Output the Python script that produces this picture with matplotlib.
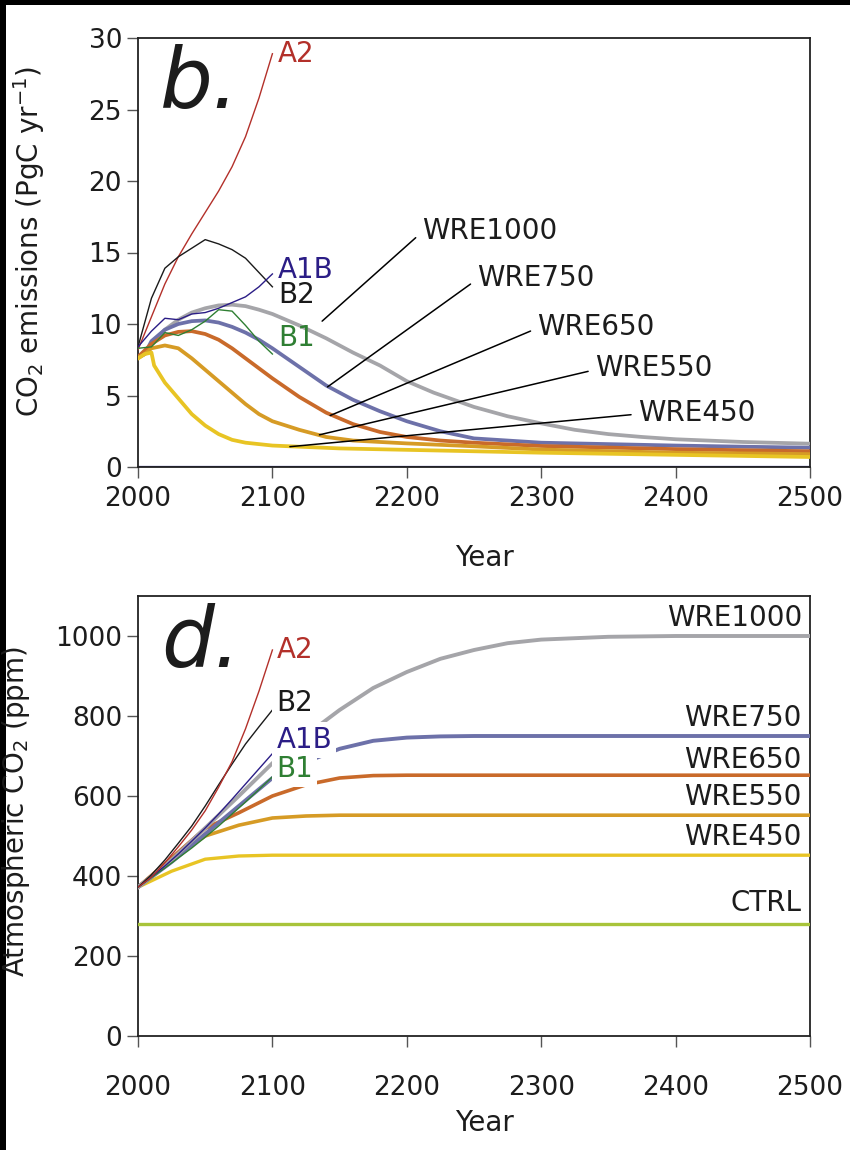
import matplotlib
matplotlib.use("Agg")
import matplotlib.pyplot as plt
from matplotlib.patches import Rectangle

plt.rcParams['font.family'] = ['DejaVu Sans']
plt.rcParams['mathtext.default'] = 'regular'

# ---- panel b: CO2 emissions (PgC/yr) ----
sres_years = [2000, 2010, 2020, 2030, 2040, 2050, 2060, 2070, 2080, 2090, 2100]
a2_emis = [8.2, 10.5, 12.8, 14.7, 16.3, 17.8, 19.3, 21.0, 23.1, 25.8, 28.9]
b2_emis = [8.4, 11.8, 13.9, 14.7, 15.3, 15.9, 15.6, 15.2, 14.6, 13.6, 12.6]
a1b_emis = [8.4, 9.5, 10.4, 10.3, 10.7, 10.8, 11.1, 11.5, 11.9, 12.6, 13.5]
b1_emis = [8.3, 8.4, 9.4, 9.2, 9.6, 10.2, 11.0, 10.9, 9.9, 8.8, 7.9]

wre1000_yr = [2000, 2005, 2010, 2020, 2030, 2040, 2050, 2060, 2070, 2080, 2090, 2100,
              2120, 2140, 2160, 2180, 2200, 2220, 2250, 2275, 2300, 2325, 2350, 2375,
              2400, 2450, 2500]
wre1000_emis = [7.7, 7.9, 8.6, 9.6, 10.3, 10.8, 11.1, 11.3, 11.35, 11.25, 11.0, 10.7,
                9.9, 9.0, 8.0, 7.1, 6.0, 5.2, 4.2, 3.55, 3.05, 2.6, 2.3, 2.1,
                1.94, 1.75, 1.63]
wre750_yr = [2000, 2005, 2010, 2020, 2030, 2040, 2050, 2060, 2070, 2080, 2090, 2100,
             2120, 2140, 2160, 2180, 2200, 2225, 2250, 2300, 2350, 2400, 2450, 2500]
wre750_emis = [7.7, 7.9, 8.8, 9.6, 10.0, 10.2, 10.25, 10.1, 9.8, 9.4, 8.9, 8.3,
               7.0, 5.7, 4.7, 3.9, 3.2, 2.5, 2.0, 1.7, 1.6, 1.5, 1.42, 1.35]
wre650_yr = [2000, 2010, 2020, 2030, 2040, 2050, 2060, 2070, 2080, 2090, 2100,
             2120, 2140, 2160, 2180, 2200, 2225, 2250, 2300, 2400, 2500]
wre650_emis = [7.7, 8.6, 9.2, 9.45, 9.5, 9.3, 8.9, 8.3, 7.6, 6.9, 6.2,
               4.9, 3.8, 3.0, 2.45, 2.1, 1.85, 1.7, 1.47, 1.25, 1.1]
wre550_yr = [2000, 2005, 2010, 2020, 2030, 2040, 2050, 2060, 2070, 2080, 2090, 2100,
             2120, 2140, 2160, 2200, 2250, 2300, 2400, 2500]
wre550_emis = [7.6, 7.9, 8.3, 8.5, 8.3, 7.6, 6.8, 6.0, 5.2, 4.4, 3.7, 3.2,
               2.6, 2.1, 1.85, 1.65, 1.45, 1.22, 1.0, 0.9]
wre450_yr = [2000, 2005, 2010, 2012, 2020, 2030, 2040, 2050, 2060, 2070, 2080, 2100,
             2150, 2200, 2300, 2400, 2500]
wre450_emis = [7.6, 7.9, 8.0, 7.1, 5.9, 4.8, 3.7, 2.9, 2.3, 1.9, 1.7, 1.5,
               1.3, 1.2, 1.0, 0.85, 0.7]
ctrl_emis_yr = [2000, 2500]
ctrl_emis = [0, 0]

# ---- panel d: atmospheric CO2 (ppm) ----
a2_ppm = [372, 397, 433, 473, 515, 563, 622, 686, 768, 862, 965]
b2_ppm = [372, 403, 440, 482, 525, 575, 628, 680, 730, 773, 815]
a1b_ppm = [372, 398, 425, 455, 487, 520, 555, 592, 630, 668, 706]
b1_ppm = [372, 396, 420, 445, 470, 497, 525, 555, 585, 616, 648]

wre_ppm_yr = [2000, 2025, 2050, 2075, 2100, 2125, 2150, 2175, 2200, 2225, 2250,
              2275, 2300, 2350, 2400, 2500]
wre1000_ppm = [372, 440, 520, 600, 682, 752, 815, 870, 910, 943, 965,
               982, 991, 998, 1000, 1000]
wre750_ppm = [372, 435, 505, 575, 645, 685, 718, 738, 746, 749, 750,
              750, 750, 750, 750, 750]
wre650_ppm = [372, 445, 519, 558, 600, 628, 645, 651, 652, 652, 652,
              652, 652, 652, 652, 652]
wre550_ppm = [372, 443, 500, 527, 545, 550, 552, 552, 552, 552, 552,
              552, 552, 552, 552, 552]
wre450_ppm = [372, 412, 442, 450, 452, 452, 452, 452, 452, 452, 452,
              452, 452, 452, 452, 452]
ctrl_yr = [2000, 2500]
ctrl_ppm = [280, 280]

year_ticks = [2000, 2100, 2200, 2300, 2400, 2500]

# colours
c_a2 = '#b3302a'
c_b2 = '#1a1a1a'
c_a1b = '#2b1d86'
c_b1 = '#2f7f33'
c_1000 = '#a5a5a9'
c_750 = '#6d71a9'
c_650 = '#c96a2a'
c_550 = '#d69b25'
c_450 = '#e8c424'
c_ctrl = '#a8c43a'
txt = '#1c1c1c'

fig = plt.figure(figsize=(8.5, 11.5), dpi=100)
axb = fig.add_axes([138 / 850, 1 - 467 / 1150, 672 / 850, 429 / 1150])
axd = fig.add_axes([138 / 850, 1 - 1036 / 1150, 672 / 850, 440 / 1150])

thin = 1.0
thick = 2.7

# panel b lines
axb.plot(ctrl_emis_yr, ctrl_emis, color='#2a2a8c', lw=1.6, zorder=2)
axb.plot(wre1000_yr, wre1000_emis, color=c_1000, lw=thick, zorder=3)
axb.plot(wre750_yr, wre750_emis, color=c_750, lw=thick, zorder=3)
axb.plot(wre650_yr, wre650_emis, color=c_650, lw=thick, zorder=3)
axb.plot(wre550_yr, wre550_emis, color=c_550, lw=thick, zorder=3)
axb.plot(wre450_yr, wre450_emis, color=c_450, lw=thick, zorder=3)
axb.plot(sres_years, a2_emis, color=c_a2, lw=thin, zorder=4)
axb.plot(sres_years, b2_emis, color=c_b2, lw=thin, zorder=4)
axb.plot(sres_years, a1b_emis, color=c_a1b, lw=thin, zorder=4)
axb.plot(sres_years, b1_emis, color=c_b1, lw=thin, zorder=4)

fs = 20
axb.text(2104, 28.9, 'A2', color=c_a2, fontsize=fs, va='center')
axb.text(2104, 13.8, 'A1B', color=c_a1b, fontsize=fs, va='center')
axb.text(2104, 12.0, 'B2', color=c_b2, fontsize=fs, va='center')
axb.text(2104, 9.0, 'B1', color=c_b1, fontsize=fs, va='center')

# WRE labels with leader lines from the left edge of each label
wre_b_labels = ['WRE1000', 'WRE750', 'WRE650', 'WRE550', 'WRE450']
label_xy = [(2211, 16.5), (2252, 13.2), (2297, 9.8), (2340, 6.9), (2372, 3.8)]
point_xy = [(2137, 10.2), (2141, 5.6), (2143, 3.6), (2135, 2.25), (2113, 1.42)]
for name, (lx, ly), (px, py) in zip(wre_b_labels, label_xy, point_xy):
    axb.annotate(name, xy=(px, py), xytext=(lx, ly), fontsize=fs, color=txt,
                 va='center', ha='left',
                 arrowprops=dict(arrowstyle='-', color='black', lw=1.1,
                                 relpos=(0, 0.45), shrinkA=3, shrinkB=0),
                 zorder=6)

axb.text(0.033, 0.985, 'b.', transform=axb.transAxes, fontsize=60,
         style='italic', va='top', ha='left', color=txt)

axb.set_xlim(2000, 2500)
axb.set_ylim(0, 30)
axb.set_yticks([0, 5, 10, 15, 20, 25, 30])
axb.set_xticks(year_ticks)
axb.set_ylabel('CO$_2$ emissions (PgC yr$^{-1}$)', fontsize=fs, color=txt)
axb.yaxis.set_label_coords(-0.135, 0.525)
axb.set_xlabel('Year', fontsize=fs, color=txt)
axb.xaxis.set_label_coords(0.516, -0.18)
axb.tick_params(axis='x', pad=6)

# panel d lines
axd.plot(ctrl_yr, ctrl_ppm, color=c_ctrl, lw=2.4, zorder=3)
axd.plot(wre_ppm_yr, wre450_ppm, color=c_450, lw=2.4, zorder=3)
axd.plot(wre_ppm_yr, wre550_ppm, color=c_550, lw=2.6, zorder=3)
axd.plot(wre_ppm_yr, wre650_ppm, color=c_650, lw=2.6, zorder=3)
axd.plot(wre_ppm_yr, wre750_ppm, color=c_750, lw=2.8, zorder=3)
axd.plot(wre_ppm_yr, wre1000_ppm, color=c_1000, lw=2.8, zorder=3)
axd.plot(sres_years, b1_ppm, color=c_b1, lw=thin, zorder=4)
axd.plot(sres_years, a1b_ppm, color=c_a1b, lw=thin, zorder=4)
axd.plot(sres_years, b2_ppm, color=c_b2, lw=thin, zorder=4)
axd.plot(sres_years, a2_ppm, color=c_a2, lw=thin, zorder=4)

box = dict(facecolor='white', edgecolor='none', pad=3)
axd.text(2103, 965, 'A2', color=c_a2, fontsize=fs, va='center', zorder=6)
axd.text(2103, 832, 'B2', color=c_b2, fontsize=fs, va='center', zorder=6, bbox=box)
axd.text(2103, 740, 'A1B', color=c_a1b, fontsize=fs, va='center', zorder=6, bbox=box)
axd.text(2103, 668, 'B1', color=c_b1, fontsize=fs, va='center', zorder=6, bbox=box)

wre_d_labels = ['WRE1000', 'WRE750', 'WRE650', 'WRE550', 'WRE450', 'CTRL']
wre_d_y = [1045, 795, 690, 597, 498, 332]
for name, y in zip(wre_d_labels, wre_d_y):
    axd.text(2494, y, name, fontsize=fs, color=txt, ha='right', va='center')

axd.text(0.035, 0.985, 'd.', transform=axd.transAxes, fontsize=60,
         style='italic', va='top', ha='left', color=txt)

axd.set_xlim(2000, 2500)
axd.set_ylim(0, 1100)
axd.set_yticks([0, 200, 400, 600, 800, 1000])
axd.set_xticks(year_ticks)
axd.set_ylabel('Atmospheric CO$_2$ (ppm)', fontsize=fs, color=txt)
axd.yaxis.set_label_coords(-0.158, 0.51)
axd.set_xlabel('Year', fontsize=fs, color=txt)
axd.xaxis.set_label_coords(0.516, -0.165)
axd.tick_params(axis='x', pad=20)

for ax in (axb, axd):
    ax.tick_params(direction='out', length=8, width=1.0, labelsize=19,
                   colors='#555555', labelcolor=txt)
    for sp in ax.spines.values():
        sp.set_color('#222222')
        sp.set_linewidth(1.3)

# black frame edges
fig.add_artist(Rectangle((0, 1 - 5 / 1150), 1, 5 / 1150, transform=fig.transFigure,
                         facecolor='black', edgecolor='none', zorder=0))
fig.add_artist(Rectangle((0, 0), 6 / 850, 1, transform=fig.transFigure,
                         facecolor='black', edgecolor='none', zorder=0))

fig.savefig('out.png', dpi=100)
